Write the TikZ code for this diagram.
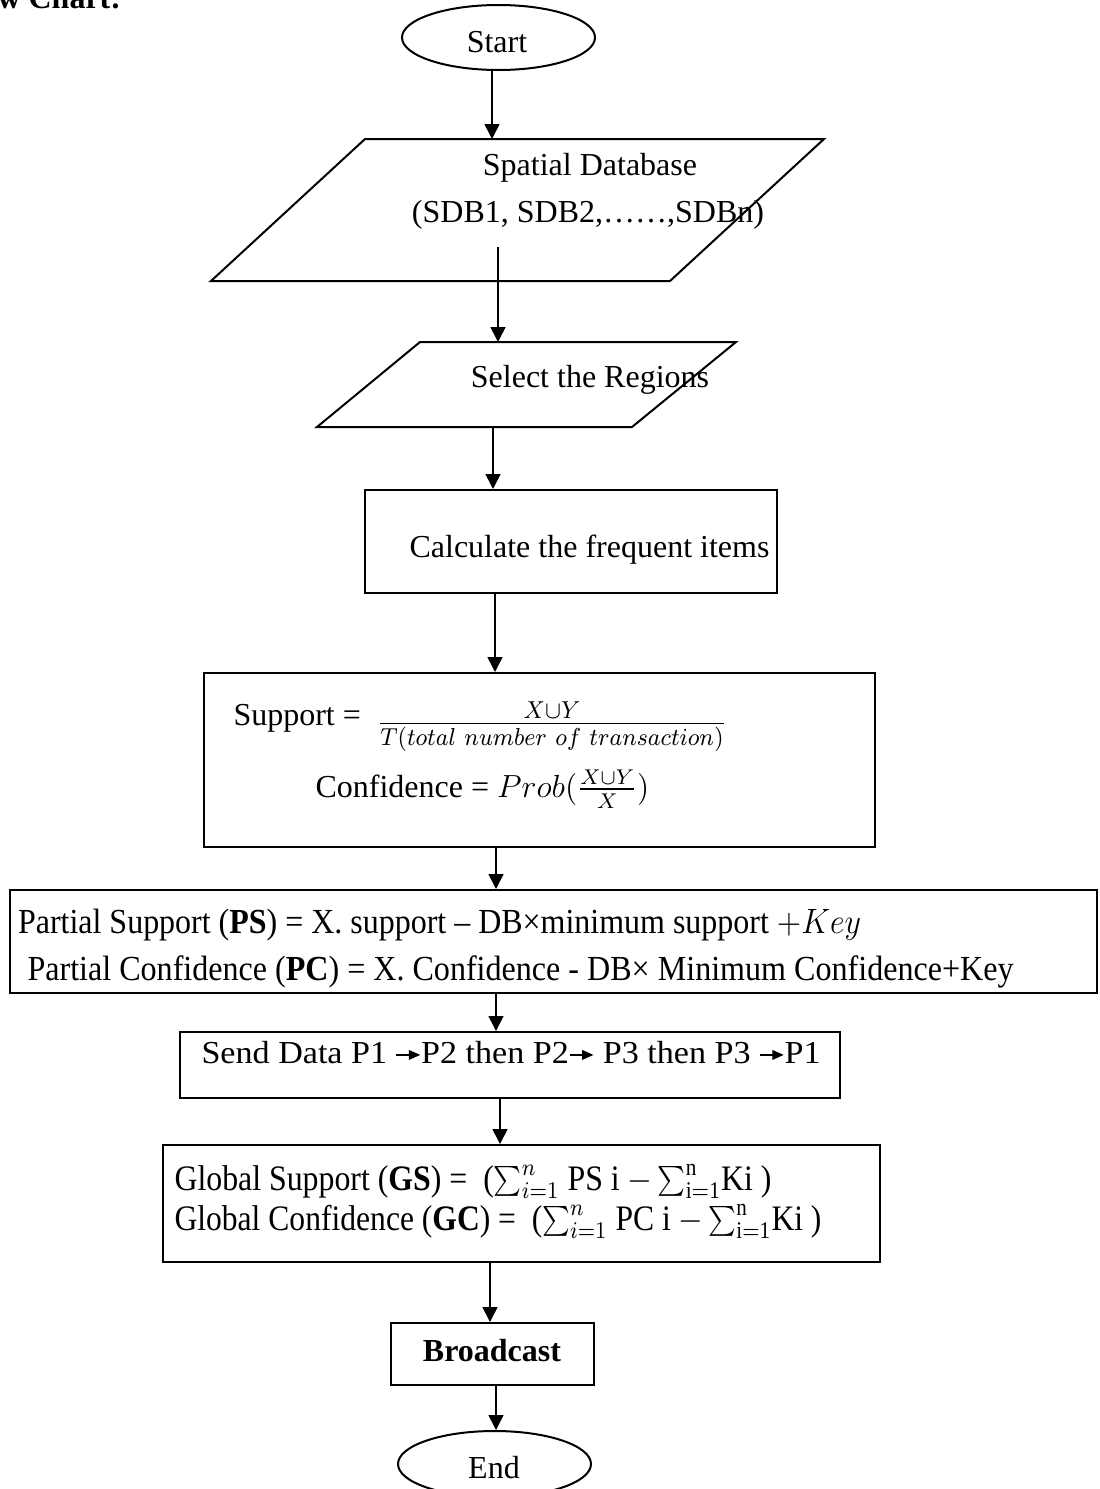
\documentclass[tikz,border=0pt]{standalone}
\usepackage{fontspec}
\setmainfont{Liberation Serif}
\usepackage{graphicx}
\usetikzlibrary{arrows.meta,shapes.geometric}
\newlength\px
\setlength\px{0.375pt}
\newcommand\sarr{\tikz[baseline=-0.55ex]\draw[line width=0.55pt,-{Triangle[length=4pt,width=3.6pt]}](0,0)--(0.7em,0);}
\begin{document}
\begin{tikzpicture}[x=0.375pt,y=-0.375pt,
  font=\fontsize{12}{14}\selectfont,
  box/.style={draw, line width=0.75pt, inner sep=0pt},
  shp/.style={draw, line width=0.75pt},
  arr/.style={line width=0.6pt, -{Triangle[length=5.6pt,width=5.6pt]}},
  txt/.style={inner sep=0pt, anchor=base},
  txtw/.style={inner sep=0pt, anchor=base west},
  term/.style={draw, ellipse, line width=0.75pt, inner sep=0pt, minimum width=193\px, minimum height=65\px}]
\useasboundingbox (0,0) rectangle (1099,1489);
\clip (0,0) rectangle (1099,1489);

% title (cropped)
\node[txtw, font=\fontsize{12}{14}\selectfont\bfseries] (title) at (-3,8) {w Chart:};

% start
\node[term] (start) at (498.5,37.5) {};
\node[txt] (starttxt) at (497,52) {Start};

% spatial database parallelogram
\draw[shp] (365,139) -- (824,139) -- (670,281) -- (211,281) -- cycle;
\coordinate (p1top) at (492,139);
\coordinate (p1out) at (498,247);
\node[txt] (sdb1) at (590,175) {Spatial Database};
\node[txt] (sdb2) at (588,222) {(SDB1, SDB2,……,SDBn)};

% select regions parallelogram
\draw[shp] (420,342) -- (736,342) -- (632,427) -- (317,427) -- cycle;
\coordinate (p2top) at (498,342);
\coordinate (p2bot) at (493,427);
\node[txt] (sel) at (590,387) {Select the Regions};

% boxes
\node[box, minimum width=412\px, minimum height=103\px] (calc) at (571,541.5) {};
\node[txt] (calctxt) at (589.5,557) {Calculate the frequent items};

\node[box, minimum width=671\px, minimum height=174\px] (supp) at (539.5,760) {};
\node[txtw] (suptxt) at (233,725) {Support =};
\node[txt] (supfrac) at (552,733) {\resizebox{350\px}{1.15\height}{$\frac{X\cup Y}{T(total\ number\ of\ transaction)}$}};
\node[txtw] (conftxt) at (315,797) {Confidence = $Prob(\frac{X\cup Y}{X})$};

\node[box, minimum width=1087\px, minimum height=103\px] (part) at (553.5,941.5) {};
\node[txtw] (ps) at (17.5,933) {\resizebox{843\px}{1.1\height}{Partial Support (\textbf{PS}) = X. support – DB×minimum support $+Key$}};
\node[txtw] (pc) at (27,980) {\resizebox{986\px}{1.1\height}{Partial Confidence (\textbf{PC}) = X. Confidence - DB× Minimum Confidence+Key}};

\node[box, minimum width=660\px, minimum height=66\px] (send) at (510,1065) {};
\node[txtw] (sendtxt) at (201,1063) {\resizebox{619\px}{\height}{Send Data P1 \sarr P2 then P2\sarr{} P3 then P3 \sarr P1}};

\node[box, minimum width=717\px, minimum height=117\px] (glob) at (521.5,1203.5) {};
\node[txtw] (gs) at (174,1190) {\resizebox{597\px}{1.12\height}{Global Support (\textbf{GS}) =\ \ ($\sum_{i=1}^{n}$ PS i $-\sum_{\mathrm{i=1}}^{\mathrm{n}}$Ki )}};
\node[txtw] (gc) at (174,1230) {\resizebox{647\px}{1.12\height}{Global Confidence (\textbf{GC}) =\ \ ($\sum_{i=1}^{n}$ PC i $-\sum_{\mathrm{i=1}}^{\mathrm{n}}$Ki )}};

\node[box, minimum width=203\px, minimum height=62\px] (bc) at (492.5,1354) {};
\node[txt] (bctxt) at (492,1361) {\textbf{Broadcast}};

\node[term, minimum height=66\px] (end) at (494.5,1464) {};
\node[txt] (endtxt) at (494,1478) {End};

% connectors
\coordinate (a4) at (495,0);
\coordinate (a5) at (496,0);
\coordinate (a7) at (500,0);
\coordinate (a8) at (490,0);
\draw[arr] (start.south -| p1top) -- (p1top);
\draw[arr] (p1out) -- (p2top);
\draw[arr] (p2bot) -- (p2bot |- calc.north);
\draw[arr] (calc.south -| a4) -- (supp.north -| a4);
\draw[arr] (supp.south -| a5) -- (part.north -| a5);
\draw[arr] (part.south -| a5) -- (send.north -| a5);
\draw[arr] (send.south -| a7) -- (glob.north -| a7);
\draw[arr] (glob.south -| a8) -- (bc.north -| a8);
\draw[arr] (bc.south -| a5) -- (end.north -| a5);
\end{tikzpicture}
\end{document}
